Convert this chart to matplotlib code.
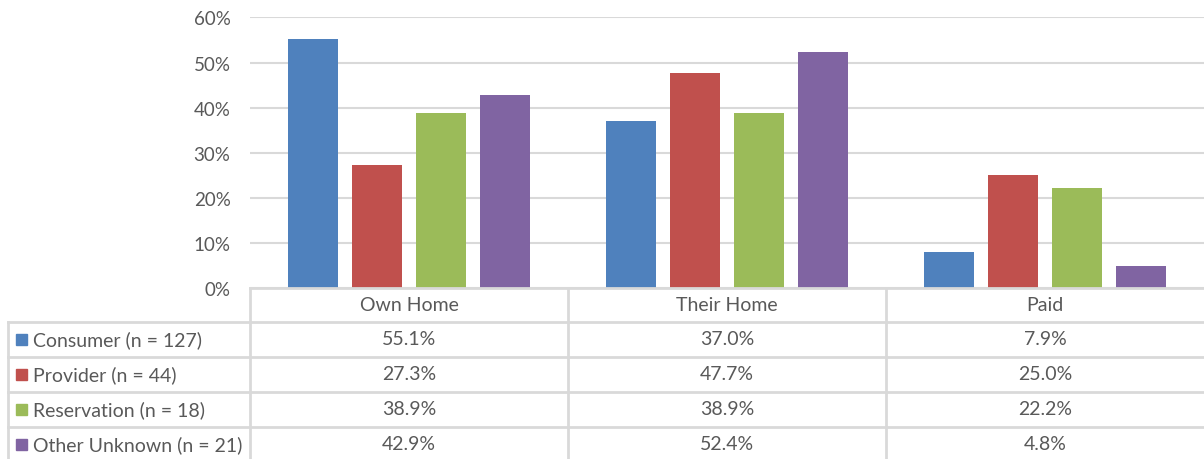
import matplotlib
matplotlib.use("Agg")
import matplotlib.pyplot as plt
import numpy as np
from matplotlib.ticker import PercentFormatter

plt.rcParams["font.family"] = ["Lato", "DejaVu Sans"]

categories = ["Own Home", "Their Home", "Paid"]
series = ["Consumer (n = 127)", "Provider (n = 44)",
          "Reservation (n = 18)", "Other Unknown (n = 21)"]
consumer = [55.1, 37.0, 7.9]
provider = [27.3, 47.7, 25.0]
reservation = [38.9, 38.9, 22.2]
other_unknown = [42.9, 52.4, 4.8]
values = [consumer, provider, reservation, other_unknown]
colors = ["#4F81BD", "#C0504D", "#9BBB59", "#8064A2"]

TEXT = "#595959"
GRID = "#D9D9D9"
W, H = 1204, 460

fig = plt.figure(figsize=(W / 100, H / 100), dpi=100)

# plot area in pixels: left 250, top 18, bottom 289, right edge of image
left, top, bottom = 250, 18.4, 289
ax = fig.add_axes([left / W, 1 - bottom / H, 1 - left / W, (bottom - top) / H])

x = np.arange(len(categories))
step = 64 / 318
width = 50 / 318
for i, (vals, col) in enumerate(zip(values, colors)):
    ax.bar(x + (i - 1.5) * step, vals, width=width, color=col, zorder=3)

ax.set_xlim(-0.5, len(categories) - 0.5)
ax.set_ylim(0, 60)
ax.set_yticks(np.arange(0, 61, 10))
ax.yaxis.set_major_formatter(PercentFormatter(decimals=0))
ax.tick_params(axis="y", length=0, labelsize=13.5, labelcolor=TEXT, pad=14)
ax.set_xticks([])
ax.grid(axis="y", color=GRID, linewidth=1.5, zorder=0)
for s in ax.spines.values():
    s.set_visible(False)

# data table drawn in pixel coordinates on an overlay axes
tab = fig.add_axes([0, 0, 1, 1])
tab.set_xlim(0, W)
tab.set_ylim(H, 0)
tab.axis("off")

col_edges = [left + k * (W - left) / len(categories) for k in range(len(categories) + 1)]
row_edges = [289, 322.5, 357.5, 392.5, 427.5, 462.5]
lw = 2
# header top line and column separators
tab.plot([left, W], [row_edges[0]] * 2, color=GRID, lw=lw)
for xe in col_edges[:-1]:
    tab.plot([xe, xe], [row_edges[0], H], color=GRID, lw=lw)
tab.plot([8, 8], [row_edges[1], H], color=GRID, lw=lw)
for ye in row_edges[1:-1]:
    tab.plot([8, W], [ye, ye], color=GRID, lw=lw)

fs = 14
for j, cat in enumerate(categories):
    cx = (col_edges[j] + col_edges[j + 1]) / 2
    tab.text(cx, (row_edges[0] + row_edges[1]) / 2, cat, ha="center", va="center",
             fontsize=fs, color=TEXT)

for i, (name, vals, col) in enumerate(zip(series, values, colors)):
    cy = (row_edges[i + 1] + row_edges[i + 2]) / 2
    tab.add_patch(plt.Rectangle((16, cy - 5.5), 11, 11, color=col))
    tab.text(33, cy, name, ha="left", va="center", fontsize=fs, color=TEXT)
    for j, v in enumerate(vals):
        cx = (col_edges[j] + col_edges[j + 1]) / 2
        tab.text(cx, cy, f"{v:.1f}%", ha="center", va="center", fontsize=fs, color=TEXT)

fig.savefig("out.png", dpi=100)
